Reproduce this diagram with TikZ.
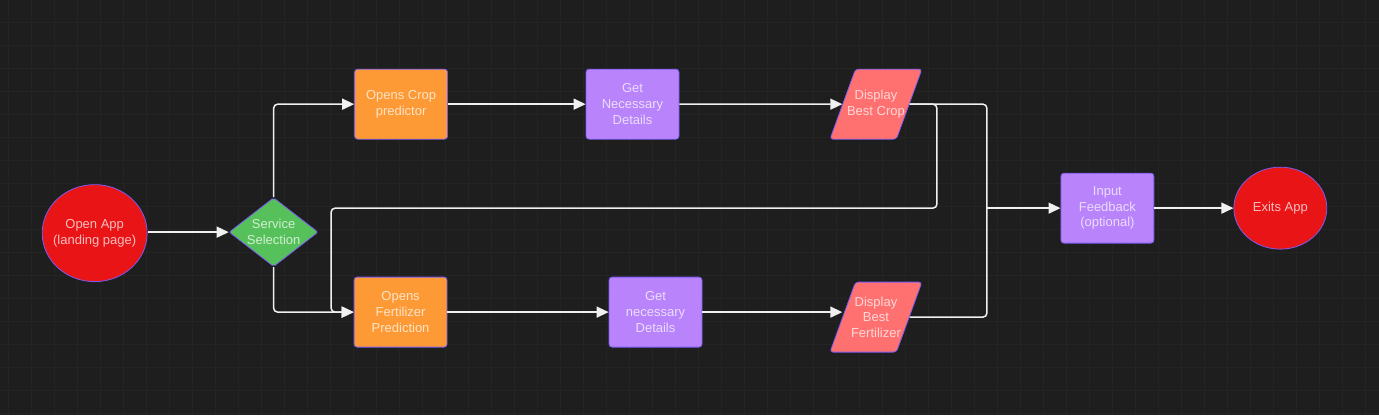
\documentclass[tikz,border=0pt]{standalone}
\usepackage{fontspec}
\setmainfont{Liberation Sans}
\usetikzlibrary{shapes.geometric,arrows.meta}
\definecolor{bgdark}{HTML}{1E1E1E}
\definecolor{gridline}{HTML}{242424}
\definecolor{edgeline}{HTML}{7B5CF0}
\definecolor{appred}{HTML}{E81416}
\definecolor{selgreen}{HTML}{56C15B}
\definecolor{openorange}{HTML}{FD9A35}
\definecolor{getpurple}{HTML}{B983FB}
\definecolor{showsalmon}{HTML}{FF7171}

\begin{document}
\begin{tikzpicture}[x=1pt,y=-1pt,
		txt/.style={text=white,text opacity=0.72,font=\fontsize{13}{15.7}\selectfont,align=center},
		box/.style={txt,draw=edgeline,line width=0.8pt,rectangle,rounded corners=3pt,minimum width=93pt,minimum height=70pt,inner sep=0pt},
		oval/.style={draw=edgeline,line width=0.8pt,ellipse,fill=appred,inner sep=0pt},
		choice/.style={draw=edgeline,line width=0.8pt,diamond,fill=selgreen,rounded corners=2pt,minimum width=89pt,minimum height=69pt,inner sep=0pt},
		slant/.style={draw=edgeline,line width=0.8pt,trapezium,trapezium left angle=76,trapezium right angle=104,trapezium stretches=true,fill=showsalmon,rounded corners=3pt,minimum width=92pt,minimum height=70pt,inner sep=4pt},
		link/.style={draw=white!94!black,line width=1.5pt,rounded corners=4pt,-{Triangle[length=12pt,width=11pt]}},
		wire/.style={draw=white!94!black,line width=1.5pt,rounded corners=4pt}]
		\fill[bgdark] (0,0) rectangle (1379,415);
		\foreach \gx in {8,31,...,1379}
			\draw[gridline] (\gx,0) -- (\gx,415);
		\foreach \gy in {22,45,...,415}
			\draw[gridline] (0,\gy) -- (1379,\gy);
		\node[oval,minimum width=105pt,minimum height=97pt,label={[txt]center:Open App\\(landing page)}] (openapp) at (94.5,233) {};
		\node[choice,label={[txt]center:Service\\Selection}] (service) at (273.5,232) {};
		\node[box,fill=openorange] (cropopen) at (401,104) {Opens Crop\\predictor};
		\node[box,fill=getpurple] (cropget) at (632.5,104) {Get\\Necessary\\Details};
		\node[slant,label={[txt]center:Display\\Best Crop}] (cropshow) at (876,104) {\strut};
		\node[box,fill=openorange] (fertopen) at (400.5,312) {Opens\\Fertilizer\\Prediction};
		\node[box,fill=getpurple] (fertget) at (655.5,312) {Get\\necessary\\Details};
		\node[slant,label={[txt]center:Display\\Best\\Fertilizer}] (fertshow) at (876,317) {\strut};
		\node[box,fill=getpurple] (feedback) at (1107.5,208) {Input\\Feedback\\(optional)};
		\node[oval,minimum width=93pt,minimum height=82pt,label={[txt]center:Exits App}] (exitapp) at (1280.5,208) {};
		\coordinate (loopR) at (937,208);
		\coordinate (loopL) at (331,208);
		\coordinate (merge) at (987,208);
		\draw[link] (openapp.east |- service) -- (service);
		\draw[link] (service.north) |- (cropopen);
		\draw[link] (service.south) |- (fertopen);
		\draw[link] (cropopen) -- (cropget);
		\draw[link] (cropget) -- (cropshow);
		\draw[link] (fertopen) -- (fertget);
		\draw[link] (fertget) -- (fertget -| fertshow.west);
		\draw[link] (cropshow.east) -| (loopR) -- (loopL) |- (fertopen.west);
		\draw[wire] (cropshow.east) -| (merge);
		\draw[wire] (fertshow.east) -| (merge);
		\draw[link] (merge) -- (feedback);
		\draw[link] (feedback) -- (exitapp);
	\end{tikzpicture}
\end{document}
